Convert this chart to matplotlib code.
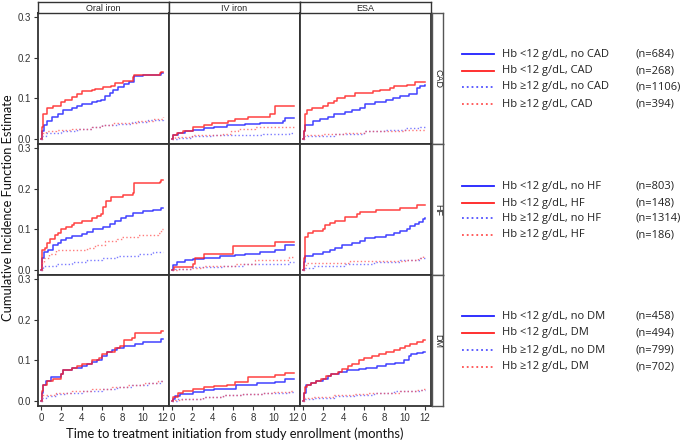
import matplotlib.pyplot as plt
from matplotlib.lines import Line2D

plt.rcParams['font.family'] = ['Liberation Sans', 'DejaVu Sans']

W, H = 685, 443
cols = ["Oral iron", "IV iron", "ESA"]
rows = ["CAD", "HF", "DM"]
counts = {"CAD": [684, 268, 1106, 394],
          "HF": [803, 148, 1314, 186],
          "DM": [458, 494, 799, 702]}

# step curves: (times, values) for [blue solid, red solid, blue dotted, red dotted]
data = {
    ("CAD", "Oral iron"): [
        ([0, 0.05, 0.25, 0.55, 1.1, 1.7, 2.2, 3.0, 3.5, 4.0, 5.0, 5.5, 5.9, 6.3, 6.8, 7.1, 7.6, 8.2, 8.7, 9.2, 10.0, 11.8, 12.0],
         [0, 0.02, 0.035, 0.045, 0.055, 0.06, 0.07, 0.075, 0.08, 0.085, 0.09, 0.093, 0.097, 0.105, 0.112, 0.12, 0.127, 0.135, 0.14, 0.154, 0.158, 0.162, 0.162]),
        ([0, 0.05, 0.2, 0.55, 1.2, 2.0, 2.4, 3.0, 3.5, 4.0, 5.0, 5.3, 6.1, 6.9, 7.3, 8.1, 9.1, 9.2, 11.7, 11.8, 12.0],
         [0, 0.03, 0.06, 0.075, 0.082, 0.09, 0.097, 0.103, 0.11, 0.117, 0.12, 0.123, 0.127, 0.13, 0.137, 0.144, 0.152, 0.157, 0.162, 0.166, 0.166]),
        ([0, 0.1, 0.5, 2.0, 3.5, 5.0, 6.0, 7.5, 9.0, 10.5, 12.0],
         [0, 0.008, 0.015, 0.02, 0.025, 0.03, 0.033, 0.037, 0.042, 0.047, 0.052]),
        ([0, 0.1, 0.5, 1.5, 3.0, 5.0, 6.0, 7.0, 8.0, 9.5, 11.0, 12.0],
         [0, 0.015, 0.02, 0.022, 0.025, 0.03, 0.035, 0.038, 0.04, 0.045, 0.05, 0.055]),
    ],
    ("CAD", "IV iron"): [
        ([0, 0.1, 0.6, 1.3, 2.1, 3.1, 4.1, 5.4, 7.2, 8.7, 10.9, 11.1, 12.0],
         [0, 0.01, 0.015, 0.02, 0.022, 0.027, 0.03, 0.033, 0.037, 0.04, 0.045, 0.052, 0.052]),
        ([0, 0.1, 0.5, 1.1, 2.1, 3.1, 3.9, 5.5, 6.2, 7.5, 9.6, 10.1, 12.0],
         [0, 0.01, 0.015, 0.02, 0.028, 0.035, 0.04, 0.045, 0.05, 0.055, 0.06, 0.08, 0.08]),
        ([0, 0.5, 2.0, 4.0, 6.0, 9.0, 11.5, 12.0],
         [0, 0.003, 0.006, 0.009, 0.01, 0.012, 0.015, 0.015]),
        ([0, 0.3, 2.0, 5.0, 5.8, 6.5, 8.2, 12.0],
         [0, 0.005, 0.01, 0.012, 0.02, 0.025, 0.028, 0.029]),
    ],
    ("CAD", "ESA"): [
        ([0, 0.05, 0.2, 1.0, 1.7, 2.5, 3.0, 4.1, 4.8, 5.6, 6.1, 7.1, 8.2, 8.9, 9.5, 10.4, 11.2, 11.5, 12.0],
         [0, 0.02, 0.035, 0.045, 0.05, 0.055, 0.06, 0.065, 0.07, 0.075, 0.085, 0.09, 0.095, 0.1, 0.105, 0.11, 0.125, 0.13, 0.133]),
        ([0, 0.05, 0.2, 0.35, 0.85, 2.0, 2.5, 3.0, 3.3, 4.1, 5.1, 6.9, 7.6, 8.6, 9.0, 10.2, 11.0, 12.0],
         [0, 0.02, 0.06, 0.07, 0.077, 0.082, 0.088, 0.093, 0.1, 0.105, 0.112, 0.117, 0.12, 0.125, 0.13, 0.133, 0.14, 0.14]),
        ([0, 0.1, 3.0, 6.0, 8.0, 10.0, 11.5, 12.0],
         [0, 0.008, 0.012, 0.018, 0.022, 0.026, 0.03, 0.03]),
        ([0, 0.1, 2.0, 4.0, 6.0, 8.0, 10.0, 12.0],
         [0, 0.01, 0.012, 0.015, 0.018, 0.02, 0.022, 0.024]),
    ],
    ("HF", "Oral iron"): [
        ([0, 0.05, 0.25, 0.7, 1.2, 1.7, 2.0, 2.5, 3.0, 4.0, 4.5, 5.1, 6.1, 6.8, 7.3, 7.9, 8.4, 9.1, 10.0, 11.0, 11.8, 12.0],
         [0, 0.03, 0.045, 0.05, 0.06, 0.065, 0.073, 0.078, 0.083, 0.088, 0.093, 0.1, 0.105, 0.113, 0.12, 0.128, 0.133, 0.14, 0.145, 0.148, 0.152, 0.152]),
        ([0, 0.05, 0.4, 0.55, 0.9, 1.4, 1.7, 2.0, 2.5, 3.0, 3.2, 4.0, 5.0, 5.5, 5.9, 6.1, 6.4, 6.9, 8.1, 9.1, 9.2, 11.7, 11.8, 12.0],
         [0, 0.048, 0.055, 0.067, 0.075, 0.085, 0.09, 0.1, 0.105, 0.11, 0.115, 0.12, 0.128, 0.133, 0.138, 0.155, 0.17, 0.18, 0.185, 0.19, 0.215, 0.218, 0.222, 0.222]),
        ([0, 0.05, 0.2, 1.5, 3.0, 4.5, 6.0, 7.5, 9.5, 11.0, 12.0],
         [0, 0.005, 0.01, 0.015, 0.02, 0.025, 0.03, 0.035, 0.04, 0.045, 0.045]),
        ([0, 0.05, 0.3, 0.8, 1.5, 4.5, 5.3, 6.3, 7.5, 8.0, 9.5, 11.5, 11.8, 12.0],
         [0, 0.02, 0.03, 0.04, 0.05, 0.055, 0.06, 0.07, 0.075, 0.08, 0.085, 0.09, 0.1, 0.1]),
    ],
    ("HF", "IV iron"): [
        ([0, 0.1, 0.5, 1.3, 2.1, 3.1, 4.7, 6.2, 7.2, 8.7, 10.1, 11.1, 12.0],
         [0, 0.011, 0.018, 0.023, 0.027, 0.03, 0.033, 0.037, 0.04, 0.045, 0.05, 0.06, 0.06]),
        ([0, 0.15, 2.1, 2.3, 3.1, 6.0, 10.1, 11.1, 12.0],
         [0, 0.007, 0.015, 0.03, 0.04, 0.058, 0.068, 0.068, 0.068]),
        ([0, 0.3, 2.0, 5.0, 7.0, 8.5, 11.5, 12.0],
         [0, 0.003, 0.007, 0.01, 0.013, 0.015, 0.018, 0.018]),
        ([0, 0.5, 2.0, 3.0, 6.2, 8.2, 11.5, 12.0],
         [0, 0.003, 0.005, 0.01, 0.015, 0.025, 0.032, 0.032]),
    ],
    ("HF", "ESA"): [
        ([0, 0.05, 0.2, 1.0, 2.0, 2.7, 3.1, 3.8, 4.8, 5.6, 6.1, 7.1, 8.2, 9.0, 9.5, 10.2, 10.5, 11.0, 11.4, 11.8, 12.0],
         [0, 0.02, 0.035, 0.04, 0.045, 0.05, 0.055, 0.06, 0.065, 0.07, 0.078, 0.082, 0.087, 0.09, 0.095, 0.1, 0.107, 0.112, 0.118, 0.125, 0.128]),
        ([0, 0.05, 0.2, 0.5, 1.0, 2.0, 2.2, 2.7, 3.1, 4.1, 5.3, 5.6, 7.2, 9.5, 11.2, 12.0],
         [0, 0.03, 0.08, 0.09, 0.095, 0.1, 0.11, 0.115, 0.12, 0.13, 0.138, 0.143, 0.147, 0.153, 0.16, 0.16]),
        ([0, 0.1, 1.0, 4.0, 7.0, 9.5, 11.5, 12.0],
         [0, 0.005, 0.01, 0.015, 0.02, 0.025, 0.028, 0.028]),
        ([0, 0.1, 0.3, 4.6, 10.0, 11.3, 11.8, 12.0],
         [0, 0.01, 0.016, 0.022, 0.025, 0.03, 0.035, 0.035]),
    ],
    ("DM", "Oral iron"): [
        ([0, 0.05, 0.2, 0.5, 1.0, 2.0, 2.2, 3.0, 4.0, 4.5, 5.0, 5.5, 6.0, 6.5, 7.0, 7.5, 8.2, 9.3, 10.0, 11.8, 12.0],
         [0, 0.02, 0.04, 0.05, 0.058, 0.065, 0.075, 0.08, 0.085, 0.09, 0.095, 0.1, 0.11, 0.12, 0.125, 0.13, 0.135, 0.14, 0.145, 0.152, 0.152]),
        ([0, 0.05, 0.2, 0.6, 1.2, 2.0, 2.2, 3.0, 3.5, 4.0, 5.0, 5.7, 6.0, 6.5, 7.3, 7.8, 8.2, 9.0, 9.3, 11.8, 12.0],
         [0, 0.025, 0.04, 0.05, 0.055, 0.065, 0.075, 0.08, 0.085, 0.09, 0.1, 0.105, 0.115, 0.12, 0.13, 0.135, 0.15, 0.155, 0.167, 0.172, 0.172]),
        ([0, 0.1, 0.5, 1.5, 2.5, 4.0, 6.0, 7.5, 9.0, 10.5, 11.8, 12.0],
         [0, 0.008, 0.012, 0.017, 0.02, 0.025, 0.03, 0.035, 0.04, 0.045, 0.05, 0.05]),
        ([0, 0.1, 1.5, 3.0, 5.0, 7.0, 8.5, 10.0, 11.5, 12.0],
         [0, 0.015, 0.02, 0.025, 0.03, 0.035, 0.04, 0.045, 0.05, 0.05]),
    ],
    ("DM", "IV iron"): [
        ([0, 0.1, 0.3, 0.8, 2.1, 3.1, 4.1, 6.3, 8.4, 10.1, 11.1, 12.0],
         [0, 0.005, 0.011, 0.016, 0.022, 0.026, 0.03, 0.04, 0.043, 0.046, 0.055, 0.055]),
        ([0, 0.1, 0.6, 1.1, 2.1, 3.1, 4.1, 5.4, 6.2, 7.5, 10.1, 11.1, 12.0],
         [0, 0.01, 0.018, 0.024, 0.028, 0.033, 0.037, 0.04, 0.047, 0.058, 0.063, 0.068, 0.068]),
        ([0, 0.5, 3.0, 5.0, 7.0, 9.0, 11.5, 12.0],
         [0, 0.005, 0.01, 0.013, 0.017, 0.02, 0.022, 0.022]),
        ([0, 0.3, 1.0, 3.0, 5.0, 7.0, 9.0, 10.0, 11.5, 12.0],
         [0, 0.003, 0.005, 0.01, 0.013, 0.017, 0.02, 0.022, 0.024, 0.024]),
    ],
    ("DM", "ESA"): [
        ([0, 0.05, 0.3, 0.8, 1.3, 2.0, 2.5, 2.8, 3.5, 4.3, 5.5, 6.2, 7.3, 8.2, 9.1, 9.9, 10.4, 10.6, 11.2, 11.8, 12.0],
         [0, 0.02, 0.04, 0.045, 0.05, 0.055, 0.06, 0.065, 0.07, 0.075, 0.078, 0.082, 0.085, 0.09, 0.093, 0.1, 0.11, 0.115, 0.118, 0.12, 0.12]),
        ([0, 0.05, 0.2, 0.4, 0.8, 1.3, 1.8, 2.3, 2.8, 3.4, 3.8, 4.4, 4.8, 5.5, 6.0, 6.8, 7.5, 8.2, 9.0, 9.5, 10.0, 10.5, 11.2, 11.8, 12.0],
         [0, 0.02, 0.035, 0.04, 0.045, 0.05, 0.055, 0.06, 0.065, 0.07, 0.078, 0.085, 0.09, 0.1, 0.105, 0.11, 0.115, 0.12, 0.125, 0.13, 0.135, 0.14, 0.145, 0.15, 0.15]),
        ([0, 0.1, 1.0, 3.0, 5.0, 7.0, 9.0, 10.5, 11.5, 12.0],
         [0, 0.005, 0.008, 0.012, 0.015, 0.02, 0.023, 0.025, 0.027, 0.027]),
        ([0, 0.1, 1.0, 3.0, 5.0, 6.3, 9.5, 11.2, 11.8, 12.0],
         [0, 0.008, 0.01, 0.013, 0.017, 0.02, 0.024, 0.027, 0.03, 0.03]),
    ],
}

styles = [dict(color="#2020ff", ls="-", lw=1.1, alpha=0.85),
          dict(color="#ff2020", ls="-", lw=1.1, alpha=0.85),
          dict(color="#5050ff", ls=":", lw=1.0, alpha=0.75),
          dict(color="#ff5050", ls=":", lw=1.0, alpha=0.75)]
labels = ["Hb <12 g/dL, no {}", "Hb <12 g/dL, {}", "Hb \u226512 g/dL, no {}", "Hb \u226512 g/dL, {}"]

fig = plt.figure(figsize=(W / 100, H / 100), dpi=100)
edge = "#333333"

col_x = [38, 169, 300]
row_y = [13, 144, 275]
pw, ph = 131, 131

for i, r in enumerate(rows):
    for j, c in enumerate(cols):
        ax = fig.add_axes([col_x[j] / W, 1 - (row_y[i] + ph) / H, pw / W, ph / H])
        for (t, v), st in zip(data[(r, c)], styles):
            ax.step(t, v, where="post", **st)
        ax.set_xlim(-0.3, 12.6)
        ax.set_ylim(-0.013, 0.311)
        for s in ax.spines.values():
            s.set_color(edge)
            s.set_linewidth(1.3)
        ax.tick_params(colors="#333333", labelsize=7, length=3, width=0.8, pad=2)
        ax.set_xticks(range(0, 13, 2))
        ax.set_yticks([0, 0.1, 0.2, 0.3])
        ax.set_yticklabels(["0.0", "0.1", "0.2", "0.3"])
        if j != 0:
            ax.tick_params(axis="y", left=False, labelleft=False)
        if i != 2:
            ax.tick_params(axis="x", bottom=False, labelbottom=False)
        if i == 0:
            sa = fig.add_axes([col_x[j] / W, 1 - row_y[0] / H, pw / W, 11 / H])
            sa.set_xticks([]); sa.set_yticks([])
            for s in sa.spines.values():
                s.set_color(edge); s.set_linewidth(1.0)
            sa.text(0.5, 0.45, c, ha="center", va="center", fontsize=6.5,
                    color="#222222", transform=sa.transAxes)
    ra = fig.add_axes([432 / W, 1 - (row_y[i] + ph) / H, 11 / W, ph / H])
    ra.set_xticks([]); ra.set_yticks([])
    for s in ra.spines.values():
        s.set_color("#555555"); s.set_linewidth(1.0)
    ra.text(0.5, 0.5, r, ha="center", va="center", rotation=-90, fontsize=6.5,
            color="#222222", transform=ra.transAxes)

fig.text(8 / W, 1 - 208 / H, "Cumulative Incidence Function Estimate", rotation=90,
         ha="center", va="center", fontsize=9.3, family="Lato", color="#111111")
fig.text(235 / W, 1 - 434 / H, "Time to treatment initiation from study enrollment (months)",
         ha="center", va="center", fontsize=9.3, family="Lato", color="#111111")

leg_y = {"CAD": [54, 71, 87, 104], "HF": [186, 203, 218, 235], "DM": [316, 333, 350, 367]}
for r in rows:
    for k in range(4):
        y = 1 - leg_y[r][k] / H
        st = styles[k]
        fig.add_artist(Line2D([462 / W, 494 / W], [y, y], color=st["color"], ls=st["ls"],
                              lw=1.3, alpha=1.0))
        fig.text(502 / W, y, labels[k].format(r), ha="left", va="center", fontsize=8,
                 family="Open Sans", color="#222222")
        fig.text(636 / W, y, "(n={})".format(counts[r][k]), ha="left", va="center",
                 fontsize=8, family="Open Sans", color="#222222")

fig.savefig("out.png", dpi=100)
